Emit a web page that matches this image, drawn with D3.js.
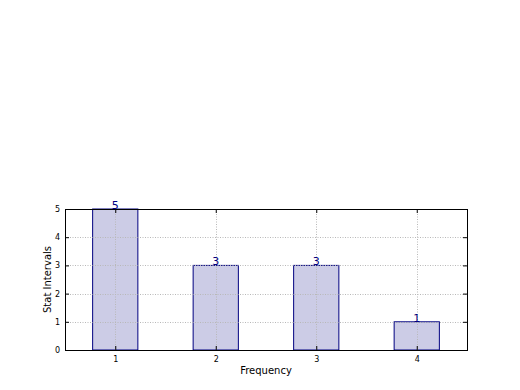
<!DOCTYPE html>
<html>
<head>
<meta charset="utf-8">
<script src="https://cdn.jsdelivr.net/npm/d3@7"></script>
<style>
  body { margin: 0; padding: 0; background: white; }
  svg { display: block; font-family: 'DejaVu Sans', sans-serif; }
</style>
</head>
<body>
<div id="main"></div>
<script>
const categories = [1, 2, 3, 4];
const counts = [5, 3, 3, 1];
const yTicks = [0, 1, 2, 3, 4, 5];

const WIDTH = 520, HEIGHT = 390;
const LEFT = 65, RIGHT = 467, TOP = 209, BOTTOM = 350;
const BARCOLOR = '#ccccE6';
const EDGE = '#000080';

const svg = d3.select('#main').append('svg')
    .attr('width', WIDTH)
    .attr('height', HEIGHT);

const scaleX = d3.scaleLinear().domain([0.5, 4.5]).range([LEFT, RIGHT]);
const scaleY = d3.scaleLinear().domain([0, 5]).range([BOTTOM, TOP]);
const barW = scaleX(0.45) - scaleX(0);

// bars
svg.selectAll('rect.bar').data(categories).enter().append('rect')
    .attr('class', 'bar')
    .attr('x', (d) => scaleX(d) - barW / 2)
    .attr('y', (d, i) => scaleY(counts[i]))
    .attr('width', barW)
    .attr('height', (d, i) => scaleY(0) - scaleY(counts[i]))
    .attr('fill', BARCOLOR)
    .attr('stroke', EDGE)
    .attr('stroke-width', 1);

// grid
const grid = svg.append('g').attr('stroke', '#b8b8b8').attr('stroke-dasharray', '1,1.5').attr('stroke-width', 1);
grid.selectAll('line.gx').data(categories).enter().append('line')
    .attr('x1', (d) => Math.round(scaleX(d)) + 0.5)
    .attr('x2', (d) => Math.round(scaleX(d)) + 0.5)
    .attr('y1', TOP)
    .attr('y2', BOTTOM);
grid.selectAll('line.gy').data(yTicks).enter().append('line')
    .attr('y1', (d) => Math.round(scaleY(d)) + 0.5)
    .attr('y2', (d) => Math.round(scaleY(d)) + 0.5)
    .attr('x1', LEFT)
    .attr('x2', RIGHT);

// value labels
svg.selectAll('text.val').data(categories).enter().append('text')
    .attr('class', 'val')
    .attr('x', (d) => scaleX(d))
    .attr('y', (d, i) => scaleY(counts[i]))
    .attr('text-anchor', 'middle')
    .attr('fill', EDGE)
    .attr('font-size', 11)
    .text((d, i) => counts[i]);

// axes with inward ticks on all sides
const fmt = d3.format('d');
const axisBottom = d3.axisBottom(scaleX).tickValues(categories).tickSize(-4).tickPadding(6).tickFormat(fmt);
const axisTop = d3.axisTop(scaleX).tickValues(categories).tickSize(-4).tickFormat('');
const axisLeft = d3.axisLeft(scaleY).tickValues(yTicks).tickSize(-4).tickPadding(5).tickFormat(fmt);
const axisRight = d3.axisRight(scaleY).tickValues(yTicks).tickSize(-4).tickFormat('');

[[axisBottom, `translate(0,${BOTTOM})`], [axisTop, `translate(0,${TOP})`],
 [axisLeft, `translate(${LEFT},0)`], [axisRight, `translate(${RIGHT},0)`]].forEach(([ax, tr]) => {
    const g = svg.append('g').attr('transform', tr).call(ax);
    g.select('.domain').remove();
    g.selectAll('text').attr('font-size', 8).attr('font-family', 'DejaVu Sans').attr('fill', '#000');
});

// frame
svg.append('rect')
    .attr('x', LEFT + 0.5)
    .attr('y', TOP + 0.5)
    .attr('width', RIGHT - LEFT)
    .attr('height', BOTTOM - TOP)
    .attr('fill', 'none')
    .attr('stroke', '#000')
    .attr('stroke-width', 1);

// axis labels
svg.append('text')
    .attr('x', (LEFT + RIGHT) / 2)
    .attr('y', 374)
    .attr('text-anchor', 'middle')
    .attr('font-size', 10)
    .text('Frequency');
svg.append('text')
    .attr('transform', `translate(51,${(TOP + BOTTOM) / 2}) rotate(-90)`)
    .attr('text-anchor', 'middle')
    .attr('font-size', 10)
    .text('Stat Intervals');
</script>
</body>
</html>
